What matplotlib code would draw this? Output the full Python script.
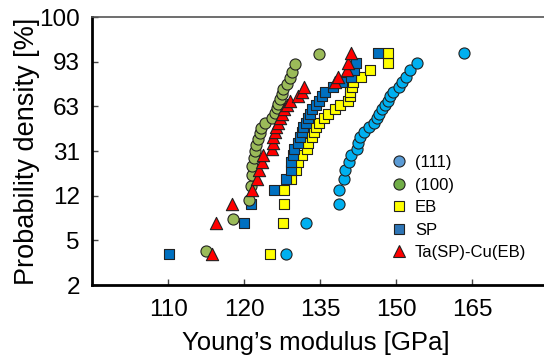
import numpy as np
import matplotlib
matplotlib.use("Agg")
import matplotlib.pyplot as plt
from matplotlib.lines import Line2D
from matplotlib.ticker import NullLocator, NullFormatter

plt.rcParams['font.family'] = ['Liberation Sans', 'DejaVu Sans']

# Young's modulus [GPa], sorted, one list per sample set
e_111 = [128.4, 131.8, 137.6, 137.7, 138.5, 138.7, 139.5, 139.9, 141.0, 141.2, 141.6, 142.3, 143.3, 144.2,
         144.7, 145.2, 145.6, 146.2, 146.8, 147.3, 147.8, 149.0, 149.5, 150.3, 151.2, 152.6, 162.4]
e_100 = [115.5, 119.7, 122.3, 122.6, 122.7, 122.8, 123.0, 123.2, 123.4, 123.7, 124.0, 124.2, 124.9, 126.0,
         126.6, 126.9, 127.1, 127.4, 127.7, 127.9, 128.6, 129.0, 129.4, 129.9, 134.0]
e_eb = [125.7, 127.8, 128.1, 128.1, 129.3, 130.0, 130.5, 131.1, 132.0, 132.2, 132.8, 133.2, 133.6, 134.0,
        134.9, 135.7, 137.0, 137.9, 139.4, 139.6, 139.7, 140.0, 140.3, 141.8, 143.5, 146.9, 146.9]
e_sp = [110.0, 121.5, 122.6, 126.3, 128.4, 129.2, 129.2, 129.6, 129.8, 130.4, 130.8, 131.1, 131.3, 131.8,
        132.1, 132.5, 132.9, 133.5, 134.0, 134.6, 135.2, 136.6, 138.2, 139.9, 140.4, 140.7, 145.0]
e_ta = [116.4, 117.0, 119.5, 122.8, 123.5, 123.9, 124.4, 124.5, 126.0, 126.2, 126.2, 126.6, 126.7, 127.0,
        127.4, 127.7, 128.1, 128.5, 129.0, 130.5, 131.1, 131.4, 136.9, 137.5, 139.2, 139.4, 139.8]

# cumulative probability [%] of each rank
prob_27 = [3.57, 7.14, 10.71, 14.29, 17.86, 21.43, 25.0, 28.57, 32.14, 35.71, 39.29, 42.86, 46.43, 50.0,
           53.57, 57.14, 60.71, 64.29, 67.86, 71.43, 75.0, 78.57, 82.14, 85.71, 89.29, 92.86, 96.43]
prob_25 = [3.85, 7.69, 11.54, 15.38, 19.23, 23.08, 26.92, 30.77, 34.62, 38.46, 42.31, 46.15, 50.0,
           53.85, 57.69, 61.54, 65.38, 69.23, 73.08, 76.92, 80.77, 84.62, 88.46, 92.31, 96.15]

x_ticks_ln = [4.7, 4.8, 4.9, 5.0, 5.1]
x_labels = ['110', '120', '135', '150', '165']
y_ticks_w = [-4, -3, -2, -1, 0, 1, 2]
y_labels = ['2', '5', '12', '31', '63', '93', '100']


def weibull(p):
    p = np.clip(np.asarray(p, dtype=float), 1e-6, 100 - 1e-9)
    return np.log(-np.log(1 - p / 100.0))


def weibull_inv(w):
    return 100.0 * (1 - np.exp(-np.exp(np.asarray(w, dtype=float))))


fig = plt.figure(figsize=(5.44, 3.55), dpi=100)
ax = fig.add_axes([0.170, 0.197, 0.837, 0.755])

ax.set_xscale('log')
ax.set_yscale('function', functions=(weibull, weibull_inv))

ec = '#222222'
ax.scatter(e_111, prob_27, s=64, marker='o', color='#00B0F0', edgecolors=ec, linewidths=0.8, zorder=3)
ax.scatter(e_eb, prob_27, s=60, marker='s', color='#FFFF00', edgecolors=ec, linewidths=0.8, zorder=3)
ax.scatter(e_sp, prob_27, s=60, marker='s', color='#0070C0', edgecolors=ec, linewidths=0.8, zorder=3)
ax.scatter(e_100, prob_25, s=64, marker='o', color='#9BBB59', edgecolors=ec, linewidths=0.8, zorder=3)
ax.scatter(e_ta, prob_27, s=78, marker='^', color='#FF0000', edgecolors=ec, linewidths=0.8, zorder=3)

ax.set_xlim(np.exp(4.6), np.exp(5.2))
ax.set_ylim(weibull_inv(-4), weibull_inv(2))
ax.set_xticks(np.exp(x_ticks_ln), x_labels)
ax.xaxis.set_minor_locator(NullLocator())
ax.xaxis.set_minor_formatter(NullFormatter())
ax.set_yticks(weibull_inv(y_ticks_w), y_labels)
ax.yaxis.set_minor_locator(NullLocator())

ax.tick_params(axis='both', direction='in', length=4, width=1, color='#444444', labelsize=17.5)
ax.tick_params(axis='x', pad=10)
ax.tick_params(axis='y', pad=9)

for side in ['left', 'bottom']:
    ax.spines[side].set_linewidth(2)
    ax.spines[side].set_color('black')
ax.spines['top'].set_linewidth(1.2)
ax.spines['top'].set_color('#555555')
ax.spines['right'].set_visible(False)

ax.set_xlabel("Young\u2019s modulus [GPa]", fontsize=18.5)
ax.set_ylabel("Probability density [%]", fontsize=19.5)
ax.xaxis.set_label_coords(0.49, -0.17)
ax.yaxis.set_label_coords(-0.115, 0.5)

handles = [
    Line2D([], [], ls='none', marker='o', ms=8, mfc='#5B9BD5', mec=ec, mew=0.8),
    Line2D([], [], ls='none', marker='o', ms=8, mfc='#70AD47', mec=ec, mew=0.8),
    Line2D([], [], ls='none', marker='s', ms=7.5, mfc='#FFFF00', mec=ec, mew=0.8),
    Line2D([], [], ls='none', marker='s', ms=7.5, mfc='#2E75B6', mec=ec, mew=0.8),
    Line2D([], [], ls='none', marker='^', ms=8.5, mfc='#FF0000', mec=ec, mew=0.8),
]
ax.legend(handles, ['(111)', '(100)', 'EB', 'SP', 'Ta(SP)-Cu(EB)'], loc='upper left',
          bbox_to_anchor=(0.655, 0.485), frameon=False, fontsize=12, handlelength=1,
          handletextpad=0.46, labelspacing=0.45, borderpad=0, borderaxespad=0)

fig.savefig('out.png', dpi=100)
